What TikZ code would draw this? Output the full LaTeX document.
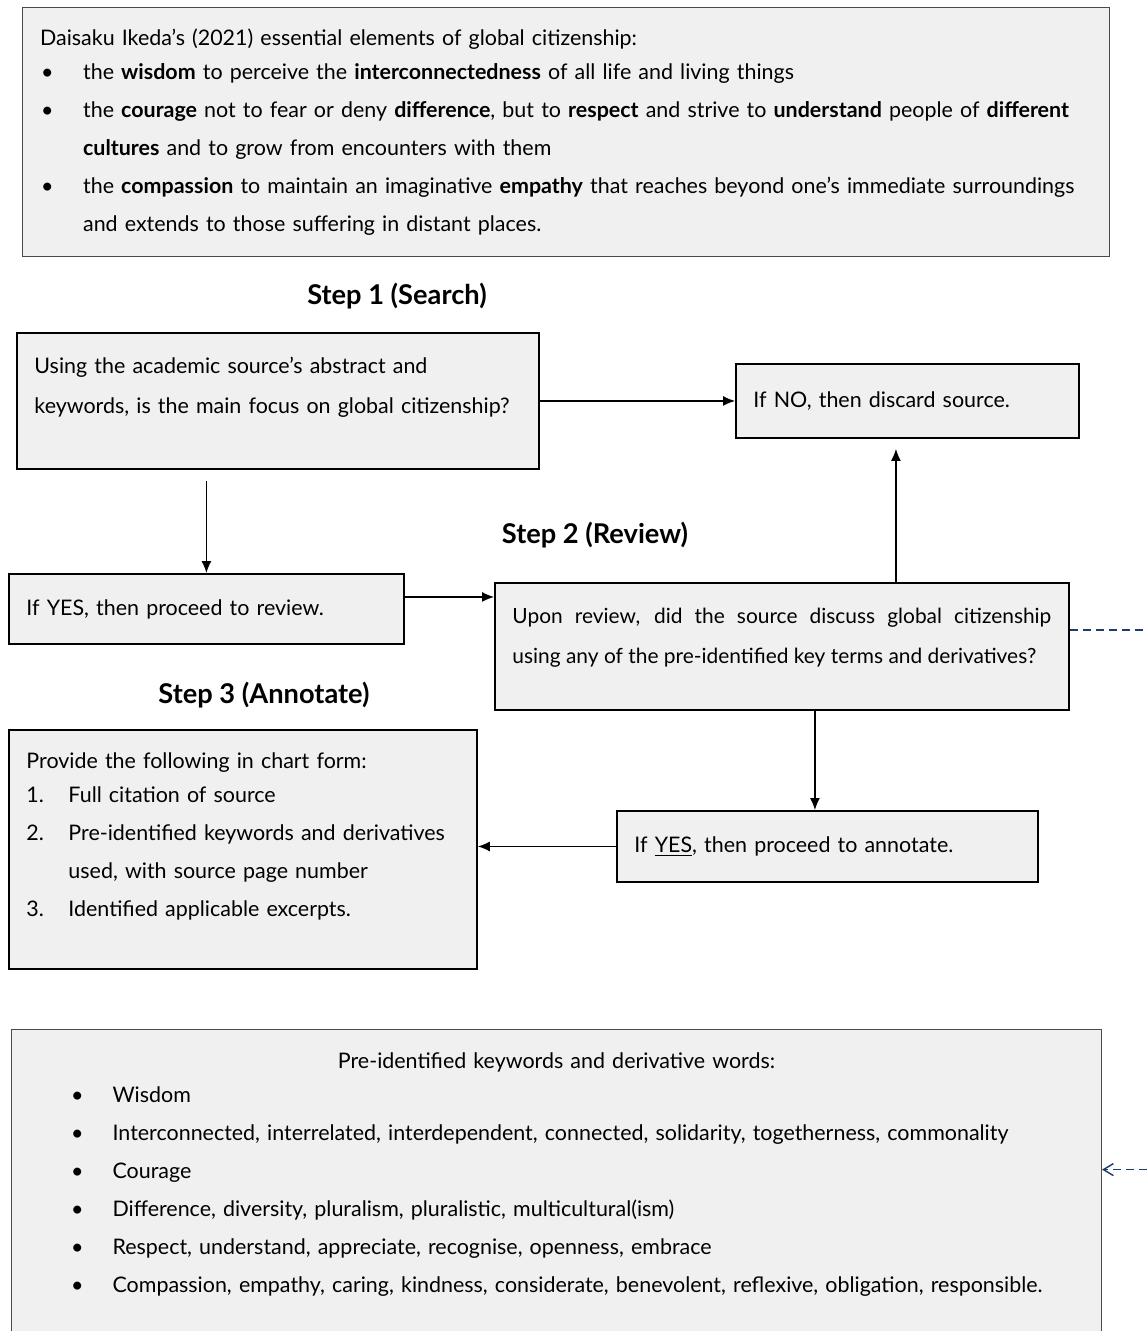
\documentclass[tikz,border=0pt]{standalone}
\usepackage{fontspec}
\setmainfont{Lato}
\usepackage{tikz}
\usetikzlibrary{arrows,arrows.meta}

\definecolor{boxgray}{HTML}{F0F0F0}
\definecolor{edgegray}{HTML}{4A4A4A}
\definecolor{dashblue}{HTML}{1F3A6E}

% bullet lines inside the boxes
\newcommand{\bul}[1]{\par\noindent\hangindent=0.86cm\hangafter=1%
  \makebox[0.86cm][l]{\hspace{0.02cm}\textbullet}#1}
\newcommand{\kwbul}[1]{\par\noindent\hangindent=1.67cm\hangafter=1%
  \makebox[1.67cm][l]{\hspace{0.84cm}\textbullet}#1}
\newcommand{\numitem}[2]{\par\noindent\hangindent=0.84cm\hangafter=1%
  \makebox[0.84cm][l]{#1}#2}
% empty space under the text of a box
\newcommand{\boxpad}[1]{\par\vspace*{#1}\hrule height 0pt}

\begin{document}
\begin{tikzpicture}[x=0.02cm,y=-0.02cm,
    >={Latex[length=0.24cm,width=0.2cm]},
    flow box/.style={draw=black,line width=1.1pt,fill=boxgray,
      anchor=north west,inner xsep=0.35cm,inner ysep=0pt,align=left,
      font=\fontsize{12.2}{21.6}\selectfont},
    info box/.style={flow box,draw=edgegray,line width=0.7pt},
    step label/.style={font=\fontsize{15.5}{18}\selectfont\bfseries},
    link/.style={->,line width=0.7pt},
    back link/.style={-{Straight Barb[length=0.2cm,width=0.24cm]},draw=dashblue,
      line width=0.8pt,dash pattern=on 0.16cm off 0.1cm}]

  \useasboundingbox (0,0) rectangle (1148,1331);

  \node[info box,minimum width=21.74cm,minimum height=4.98cm,text width=21.04cm]
    (ikeda) at (22,7) {Daisaku Ikeda’s (2021) essential elements of global citizenship:\par\vspace*{-0.08cm}
    \bul{the \textbf{wisdom} to perceive the \textbf{interconnectedness} of all life and living things}
    \bul{the \textbf{courage} not to fear or deny \textbf{difference}, but to \textbf{respect} and strive to \textbf{understand} people of \textbf{different}\newline\textbf{cultures} and to grow from encounters with them}
    \bul{the \textbf{compassion} to maintain an imaginative \textbf{empathy} that reaches beyond one’s immediate surroundings\newline and extends to those suffering in distant places.\par}};

  \node[step label] (step1) at (397,296) {Step 1 (Search)};
  \node[flow box,minimum width=10.44cm,minimum height=2.72cm,text width=9.74cm,
    font=\fontsize{12.2}{22.8}\selectfont] (search) at (16,332)
    {Using the academic source’s abstract and\\keywords, is the main focus on global citizenship?\boxpad{0.56cm}};
  \node[flow box,minimum width=6.86cm,minimum height=1.48cm,text width=6.16cm]
    (discard) at (735,363) {If NO, then discard source.};

  \node[flow box,minimum width=7.9cm,minimum height=1.4cm,text width=7.2cm]
    (yesrev) at (8,573) {If YES, then proceed to review.};
  \node[step label] (step2) at (595,535) {Step 2 (Review)};
  \node[flow box,minimum width=11.48cm,minimum height=2.54cm,text width=10.78cm,
    align=justify,font=\fontsize{11.9}{22.8}\selectfont] (review) at (494,582)
    {\noindent Upon review, did the source discuss global citizenship\linebreak
     using any of the pre-identified key terms and derivatives?\boxpad{0.36cm}};

  \node[step label] (step3) at (264,695) {Step 3 (Annotate)};
  \node[flow box,minimum width=9.36cm,minimum height=4.78cm,text width=8.66cm]
    (annotate) at (8,729) {Provide the following in chart form:\par\vspace*{-0.08cm}
    \numitem{1.}{Full citation of source}
    \numitem{2.}{Pre-identified keywords and derivatives\newline used, with source page number}
    \numitem{3.}{Identified applicable excerpts.}\boxpad{0.52cm}};
  \node[flow box,minimum width=8.42cm,minimum height=1.42cm,text width=7.72cm]
    (yesann) at (616,810) {If \underline{YES}, then proceed to annotate.};

  \node[info box,minimum width=21.8cm,minimum height=6.32cm,text width=21.1cm]
    (keywords) at (11,1029) {{\centering Pre-identified keywords and derivative words:\par}\vspace*{-0.08cm}
    \kwbul{Wisdom}
    \kwbul{Interconnected, interrelated, interdependent, connected, solidarity, togetherness, commonality}
    \kwbul{Courage}
    \kwbul{Difference, diversity, pluralism, pluralistic, multicultural(ism)}
    \kwbul{Respect, understand, appreciate, recognise, openness, embrace}
    \kwbul{Compassion, empathy, caring, kindness, considerate, benevolent, reflexive, obligation, responsible.}\boxpad{0.52cm}};

  % flow between the steps
  \draw[link] (search) -- (search -| discard.west);
  \draw[link,shorten <=0.22cm] (yesrev.north |- search.south) -- (yesrev.north);
  \draw[link] ([yshift=0.24cm]yesrev.east) -- ([yshift=0.24cm]yesrev.east -| review.west);
  \draw[link,shorten >=0.2cm] ([xshift=-0.23cm]discard.south |- review.north) -- ([xshift=-0.23cm]discard.south);
  \draw[link] ([xshift=-0.25cm]yesann.north |- review.south) -- ([xshift=-0.25cm]yesann.north);
  \draw[link] (yesann.west) -- (yesann.west -| annotate.east);
  \draw[back link] ([yshift=0.33cm]review.east) -- ++(2cm,0) |- ([yshift=0.36cm]keywords.east);
\end{tikzpicture}
\end{document}
